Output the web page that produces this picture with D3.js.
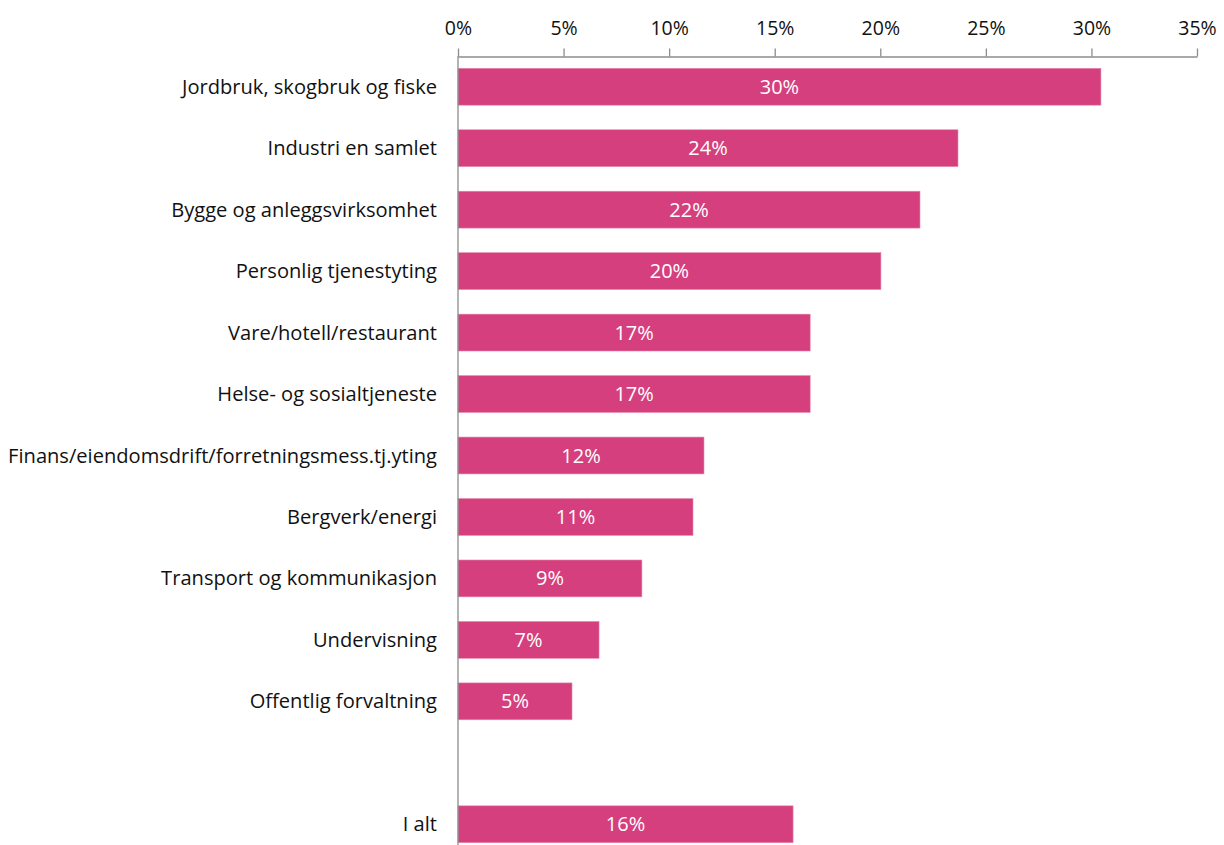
<!DOCTYPE html>
<html>
<head>
<meta charset="utf-8">
<script src="https://cdn.jsdelivr.net/npm/d3@7/dist/d3.min.js"></script>
<style>
  html, body { margin: 0; padding: 0; background: #fff; }
  svg { display: block; }
  text { font-family: "Open Sans", "Noto Sans", sans-serif; }
</style>
</head>
<body>
<svg id="chart" width="1224" height="845"></svg>
<script>
// Sector names, top to bottom; the empty entry leaves a gap before the total row
const categories = [
  "Jordbruk, skogbruk og fiske",
  "Industri en samlet",
  "Bygge og anleggsvirksomhet",
  "Personlig tjenestyting",
  "Vare/hotell/restaurant",
  "Helse- og sosialtjeneste",
  "Finans/eiendomsdrift/forretningsmess.tj.yting",
  "Bergverk/energi",
  "Transport og kommunikasjon",
  "Undervisning",
  "Offentlig forvaltning",
  "",
  "I alt"
];

// Share per sector, in percent
const values = [30.45, 23.68, 21.88, 20.03, 16.68, 16.68, 11.65, 11.13, 8.71, 6.68, 5.40, null, 15.87];

// Tick values on the horizontal axis (percent)
const ticks = [0, 5, 10, 15, 20, 25, 30, 35];

const svg = d3.select("#chart");
const margin = { top: 56, left: 458, right: 27 };
const width = 1224;
const height = 845;

const x = d3.scaleLinear()
  .domain([0, 35])
  .range([margin.left, width - margin.right]);

const y = d3.scaleBand()
  .domain(d3.range(categories.length))
  .range([margin.top, 855])
  .paddingInner(0.4)
  .paddingOuter(0.2);

const barColor = "#d53f7d";
const axisColor = "#8c8c8c";

// Top axis with percentage ticks
const xAxis = d3.axisTop(x)
  .tickValues(ticks)
  .tickFormat(d => d + "%")
  .tickSizeInner(8)
  .tickSizeOuter(0)
  .tickPadding(14);

const gx = svg.append("g")
  .attr("transform", `translate(0,${margin.top + 0.5})`)
  .call(xAxis);
gx.select(".domain").attr("stroke", axisColor).attr("stroke-width", 1.3);
gx.selectAll(".tick line").attr("stroke", axisColor).attr("stroke-width", 1.3);
gx.selectAll(".tick text")
  .attr("fill", "#111")
  .style("font-size", "19.5px")
  .style("font-family", "'Open Sans', 'Noto Sans', sans-serif");

// Bars
const rows = categories.map((c, i) => ({ name: c, value: values[i], i }));
const withValue = rows.filter(d => d.value != null);

svg.append("g")
  .selectAll("rect")
  .data(withValue)
  .join("rect")
  .attr("x", x(0))
  .attr("y", d => y(d.i))
  .attr("width", d => x(d.value) - x(0))
  .attr("height", y.bandwidth())
  .attr("fill", barColor)
  .attr("stroke", "#e58aae")
  .attr("stroke-width", 0.6);

// Value labels inside bars
svg.append("g")
  .selectAll("text")
  .data(withValue)
  .join("text")
  .attr("x", d => (x(0) + x(d.value)) / 2)
  .attr("y", d => y(d.i) + y.bandwidth() / 2)
  .attr("dy", "0.35em")
  .attr("text-anchor", "middle")
  .attr("fill", "#fff")
  .style("font-size", "20px")
  .text(d => Math.round(d.value) + "%");

// Category labels on the left
svg.append("g")
  .selectAll("text")
  .data(rows.filter(d => d.name !== ""))
  .join("text")
  .attr("x", margin.left - 21)
  .attr("y", d => y(d.i) + y.bandwidth() / 2)
  .attr("dy", "0.35em")
  .attr("text-anchor", "end")
  .attr("fill", "#111")
  .style("font-size", "20.1px")
  .text(d => d.name);

// Vertical baseline at 0%
svg.append("line")
  .attr("x1", x(0)).attr("x2", x(0))
  .attr("y1", margin.top).attr("y2", height)
  .attr("stroke", axisColor)
  .attr("stroke-width", 1.3);
</script>
</body>
</html>
